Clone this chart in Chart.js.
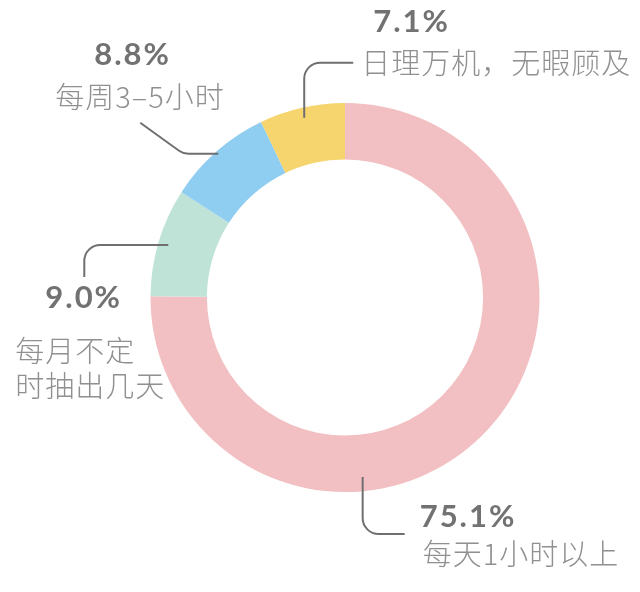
<!DOCTYPE html>
<html>
<head>
<meta charset="utf-8">
<script src="https://cdn.jsdelivr.net/npm/chart.js@4"></script>
<style>
  html, body { margin: 0; padding: 0; background: #fff; }
  #wrap { width: 640px; height: 592px; }
</style>
</head>
<body>
<div id="wrap"><canvas id="myPieChart"></canvas></div>
<script>
var categories = ['每天1小时以上', '每月不定\n时抽出几天', '每周3–5小时', '日理万机，无暇顾及'];
var shares = [75.1, 9.0, 8.8, 7.1];
var colors = ['#f2c0c2', '#c0e3d8', '#8fcdf1', '#f6d56f'];

// where each leader line leaves the ring and how it bends (offsets from that point)
var callouts = [
    { along: 0.645, radial: 0.75, path: [[0, 57], [42, 57]], pct: [57, 40], text: [60, 77] },
    { along: 0.5, radial: 0.82, path: [[-84, 0], [-84, 32]], pct: [-123, 53], text: [-153, 106] },
    { along: 0.5, radial: 0.95, path: [[-35, 0], [-78, -31]], pct: [-124, -99], text: [-163, -57] },
    { along: 0.5, radial: 0.82, path: [[0, -55], [49, -55]], pct: [69, -96], text: [57, -55] }
];

var calloutPlugin = {
    id: 'callouts',
    afterDraw: function (chart) {
        var ctx = chart.ctx;
        var meta = chart.getDatasetMeta(0);
        meta.data.forEach(function (arc, i) {
            var p = arc.getProps(['x', 'y', 'startAngle', 'endAngle', 'innerRadius', 'outerRadius'], true);
            var c = callouts[i];
            var a = p.startAngle + (p.endAngle - p.startAngle) * c.along;
            var r = p.innerRadius + (p.outerRadius - p.innerRadius) * c.radial;
            var ax = p.x + Math.cos(a) * r;
            var ay = p.y + Math.sin(a) * r;

            ctx.save();
            ctx.strokeStyle = '#6f6f6f';
            ctx.lineWidth = 2;
            ctx.beginPath();
            ctx.moveTo(ax, ay);
            var mid = c.path[0], end = c.path[1];
            ctx.arcTo(ax + mid[0], ay + mid[1], ax + end[0], ay + end[1], 16);
            ctx.lineTo(ax + end[0], ay + end[1]);
            ctx.stroke();

            ctx.textBaseline = 'middle';
            ctx.textAlign = 'left';
            ctx.fillStyle = '#727272';
            ctx.font = 'bold 31px Lato, "Noto Sans", sans-serif';
            ctx.letterSpacing = '2px';
            ctx.fillText(shares[i].toFixed(1) + '%', ax + c.pct[0], ay + c.pct[1]);

            ctx.fillStyle = '#909090';
            ctx.font = '300 29px "Noto Sans CJK SC", sans-serif';
            ctx.letterSpacing = '1px';
            categories[i].split('\n').forEach(function (line, k) {
                ctx.fillText(line, ax + c.text[0], ay + c.text[1] + k * 35);
            });
            ctx.restore();
        });
    }
};

var ctx = document.getElementById('myPieChart').getContext('2d');
var myPieChart = new Chart(ctx, {
    type: 'doughnut',
    data: {
        labels: categories,
        datasets: [{
            data: shares,
            backgroundColor: colors,
            borderWidth: 0
        }]
    },
    options: {
        responsive: true,
        maintainAspectRatio: false,
        animation: false,
        cutout: '71%',
        layout: { padding: { top: 103, bottom: 100, left: 150, right: 100 } },
        plugins: {
            legend: { display: false },
            tooltip: { enabled: false }
        }
    },
    plugins: [calloutPlugin]
});
</script>
</body>
</html>
